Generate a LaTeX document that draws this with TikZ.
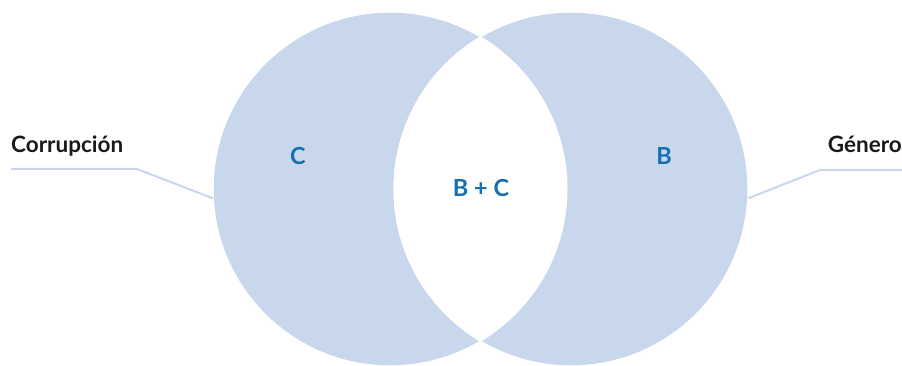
\documentclass[tikz,border=0pt]{standalone}
\usepackage{fontspec}
\setmainfont{Lato}
\definecolor{circfill}{HTML}{C8D7EC}
\definecolor{lbl}{HTML}{1670B0}
\definecolor{txt}{HTML}{1A1A1A}
\begin{document}
\begin{tikzpicture}[x=1pt,y=1pt,
  circ/.style={circle,minimum size=354pt,inner sep=0pt,fill=circfill,draw=white,line width=1pt},
  setlbl/.style={font=\fontsize{23.5}{26}\selectfont\bfseries,text=lbl,inner sep=0pt},
  cat/.style={font=\fontsize{22.5}{26}\selectfont\bfseries,text=txt,inner sep=0pt},
  lead/.style={draw=circfill,line width=2pt}]
\useasboundingbox (0,0) rectangle (902,366);
\node[circ] (lc) at (390,177) {};
\node[circ] (rc) at (571,177) {};
\begin{scope}
  \clip (390,177) circle (177);
  \fill[white] (571,177) circle (177);
\end{scope}
\draw[white,line width=1pt] (390,177) circle (177);
\draw[white,line width=1pt] (571,177) circle (177);
\node[setlbl] (c) at (298,210) {C};
\node[setlbl] (b) at (664,210) {B};
\node[setlbl] (bc) at (481,178) {B + C};
\node[cat,anchor=base west] (corr) at (11,213) {Corrupción};
\node[cat,anchor=base east] (gen) at (902,213) {Género};
\coordinate (l0) at (11,197);
\coordinate (l1) at (137,197);
\coordinate (r0) at (902,196);
\coordinate (r1) at (820,196);
\draw[lead] (l0) -- (l1) -- (lc.183);
\draw[lead] (r0) -- (r1) -- (rc.-3);
\end{tikzpicture}
\end{document}
